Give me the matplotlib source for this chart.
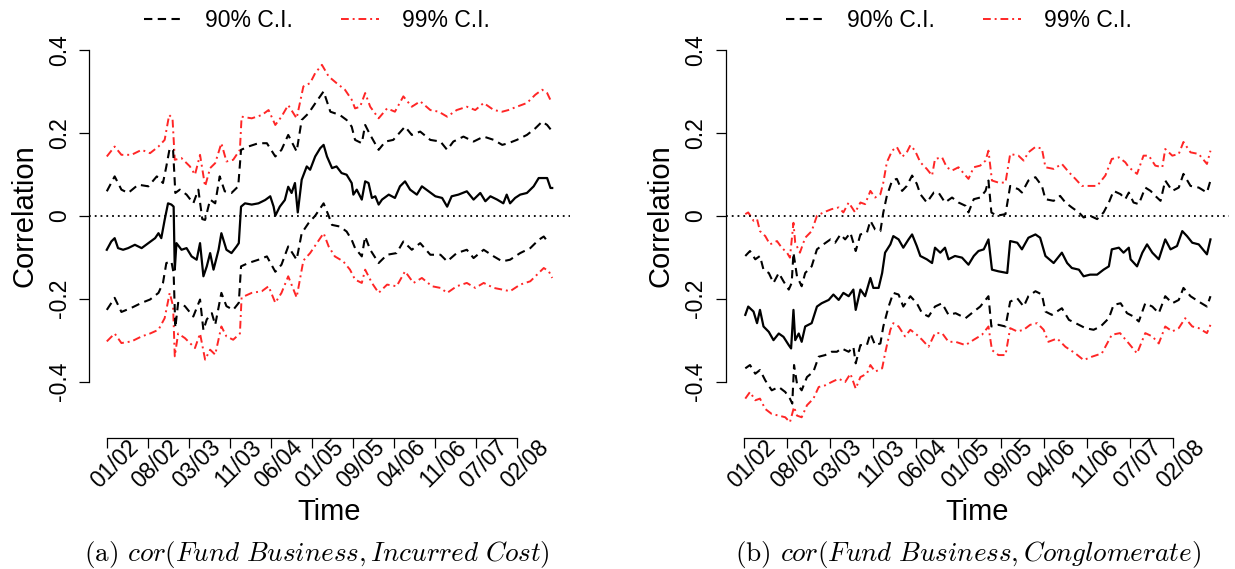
import numpy as np
import matplotlib
matplotlib.use("Agg")
import matplotlib.pyplot as plt
from matplotlib.lines import Line2D
from matplotlib.transforms import offset_copy


plt.rcParams["font.family"] = ["Liberation Sans", "DejaVu Sans"]
plt.rcParams["mathtext.fontset"] = "cm"

# time axis (months since 01/2002, ticks evenly spaced as in the original)
TICK_POS = [0, 7.3, 14.6, 21.9, 29.2, 36.5, 43.8, 51.1, 58.4, 65.7, 73.0]
TICK_LABELS = ["01/02", "08/02", "03/03", "11/03", "06/04", "01/05",
               "09/05", "04/06", "11/06", "07/07", "02/08"]
Y_TICKS = [-0.4, -0.2, 0.0, 0.2, 0.4]
Y_TICK_LABELS = ["-0.4", "-0.2", "0", "0.2", "0.4"]
LEGEND_LABELS = ["90% C.I.", "99% C.I."]
CAPTIONS = [r"(a) $cor(Fund\ Business, Incurred\ Cost)$",
            r"(b) $cor(Fund\ Business, Conglomerate)$"]

# ---- panel (a): (month, correlation) ----
left_center = [
    (0.0, -0.082), (0.8, -0.062), (1.4, -0.054), (2.0, -0.078), (2.9, -0.082),
    (3.8, -0.078), (5.0, -0.070), (6.2, -0.078), (7.4, -0.066), (8.6, -0.054),
    (9.2, -0.042), (9.7, -0.054), (10.3, -0.010), (10.9, 0.030), (11.5, 0.027),
    (11.9, 0.022), (12.1, -0.130), (12.4, -0.066), (13.3, -0.082), (14.2, -0.078),
    (15.1, -0.098), (16.0, -0.106), (16.6, -0.066), (17.2, -0.146), (17.8, -0.122),
    (18.4, -0.090), (19.0, -0.130), (19.9, -0.082), (20.4, -0.042), (21.3, -0.082),
    (22.2, -0.090), (23.1, -0.074), (23.5, -0.066), (23.9, 0.022), (24.6, 0.030),
    (25.8, 0.027), (27.0, 0.030), (28.2, 0.038), (29.1, 0.047), (29.7, 0.022),
    (30.0, 0.000), (30.8, 0.022), (31.7, 0.038), (32.3, 0.070), (32.9, 0.055),
    (33.5, 0.079), (34.0, 0.008), (34.7, 0.087), (35.6, 0.119), (36.2, 0.111),
    (37.1, 0.143), (38.0, 0.163), (38.6, 0.171), (39.2, 0.143), (40.1, 0.115),
    (40.9, 0.119), (41.8, 0.103), (42.7, 0.099), (43.6, 0.079), (43.9, 0.051),
    (44.5, 0.063), (45.4, 0.039), (46.0, 0.083), (46.6, 0.079), (47.2, 0.043),
    (47.8, 0.047), (48.4, 0.027), (49.0, 0.039), (50.2, 0.051), (51.3, 0.043),
    (52.2, 0.071), (53.1, 0.083), (54.0, 0.063), (55.2, 0.051), (56.1, 0.071),
    (57.3, 0.059), (58.5, 0.047), (59.7, 0.043), (60.6, 0.022), (61.4, 0.047),
    (62.6, 0.051), (64.1, 0.059), (65.3, 0.039), (66.5, 0.055), (67.4, 0.035),
    (68.3, 0.047), (69.5, 0.039), (70.6, 0.030), (71.2, 0.051), (71.8, 0.030),
    (72.7, 0.043), (73.6, 0.051), (74.8, 0.055), (76.0, 0.071), (76.9, 0.091),
    (77.8, 0.091), (78.4, 0.091), (79.0, 0.067), (79.3, 0.067),
]
left_up90 = [
    (0.0, 0.059), (1.4, 0.095), (2.6, 0.063), (3.8, 0.055), (5.6, 0.075),
    (7.4, 0.071), (8.9, 0.095), (10.0, 0.079), (10.6, 0.119), (11.2, 0.163),
    (11.8, 0.159), (12.2, 0.055), (13.0, 0.063), (14.2, 0.051), (15.4, 0.030),
    (16.3, 0.063), (17.0, -0.008), (17.5, -0.010), (18.4, 0.039), (19.3, 0.030),
    (20.1, 0.095), (21.0, 0.059), (22.2, 0.055), (23.4, 0.071), (23.9, 0.159),
    (25.2, 0.167), (27.0, 0.175), (28.5, 0.175), (30.0, 0.143), (31.1, 0.159),
    (32.3, 0.195), (33.8, 0.155), (34.7, 0.231), (35.9, 0.247), (37.1, 0.271),
    (38.6, 0.300), (39.8, 0.251), (41.5, 0.243), (42.7, 0.231), (43.6, 0.215),
    (44.2, 0.183), (45.4, 0.175), (46.0, 0.219), (46.9, 0.195), (48.4, 0.159),
    (49.6, 0.179), (51.0, 0.183), (53.1, 0.215), (54.3, 0.195), (55.8, 0.203),
    (57.6, 0.183), (59.4, 0.179), (60.6, 0.159), (61.7, 0.179), (63.5, 0.191),
    (65.3, 0.179), (67.1, 0.191), (68.9, 0.183), (70.4, 0.171), (71.5, 0.175),
    (73.0, 0.183), (74.8, 0.195), (76.3, 0.211), (77.5, 0.227), (78.4, 0.219),
    (79.1, 0.207),
]
left_lo90 = [
    (0.0, -0.227), (1.4, -0.198), (2.6, -0.232), (4.4, -0.222), (6.2, -0.210),
    (7.7, -0.202), (9.2, -0.186), (10.0, -0.162), (10.6, -0.114), (11.5, -0.110),
    (11.9, -0.139), (12.2, -0.270), (12.7, -0.210), (13.9, -0.218), (15.4, -0.243),
    (16.6, -0.202), (17.2, -0.276), (17.8, -0.250), (18.7, -0.235), (19.3, -0.263),
    (20.4, -0.186), (21.3, -0.218), (22.5, -0.227), (23.5, -0.210), (23.9, -0.122),
    (25.2, -0.114), (27.0, -0.106), (28.5, -0.098), (30.0, -0.135), (31.1, -0.118),
    (32.3, -0.074), (33.8, -0.106), (34.7, -0.042), (35.9, -0.018), (37.1, 0.000),
    (38.6, 0.030), (39.5, 0.000), (40.1, -0.022), (41.5, -0.026), (42.7, -0.038),
    (43.6, -0.058), (44.2, -0.078), (45.4, -0.098), (46.0, -0.050), (46.9, -0.082),
    (48.4, -0.114), (49.9, -0.094), (51.6, -0.090), (52.8, -0.062), (54.3, -0.082),
    (55.8, -0.066), (57.6, -0.094), (59.4, -0.094), (60.6, -0.110), (62.3, -0.090),
    (64.1, -0.082), (65.3, -0.102), (67.1, -0.082), (68.9, -0.098), (70.4, -0.110),
    (71.8, -0.106), (73.6, -0.090), (75.4, -0.078), (76.9, -0.058), (77.8, -0.050),
    (78.7, -0.066),
]
left_up99 = [
    (0.0, 0.143), (1.4, 0.167), (2.6, 0.147), (4.4, 0.147), (6.2, 0.159),
    (7.7, 0.151), (9.2, 0.167), (10.3, 0.183), (11.1, 0.243), (11.7, 0.235),
    (12.1, 0.135), (13.3, 0.139), (14.8, 0.119), (15.7, 0.099), (16.6, 0.147),
    (17.5, 0.071), (18.4, 0.115), (19.3, 0.127), (20.4, 0.175), (21.3, 0.131),
    (22.5, 0.135), (23.7, 0.159), (24.0, 0.239), (25.8, 0.235), (27.6, 0.243),
    (28.8, 0.255), (30.0, 0.219), (31.1, 0.239), (32.3, 0.267), (33.8, 0.235),
    (35.0, 0.312), (36.2, 0.320), (37.1, 0.344), (38.3, 0.364), (39.5, 0.336),
    (40.9, 0.320), (42.4, 0.304), (43.6, 0.280), (44.2, 0.259), (45.1, 0.263),
    (46.0, 0.296), (46.9, 0.263), (48.4, 0.235), (49.9, 0.259), (51.3, 0.251),
    (52.8, 0.288), (54.3, 0.263), (55.8, 0.276), (57.6, 0.255), (59.1, 0.251),
    (60.6, 0.239), (62.3, 0.255), (64.1, 0.263), (65.6, 0.255), (67.1, 0.272),
    (68.9, 0.255), (70.4, 0.251), (71.5, 0.255), (73.0, 0.263), (74.8, 0.272),
    (76.3, 0.292), (77.5, 0.304), (78.4, 0.296), (79.1, 0.276),
]
left_lo99 = [
    (0.0, -0.303), (1.4, -0.284), (2.6, -0.307), (4.4, -0.303), (6.2, -0.291),
    (7.7, -0.284), (9.2, -0.275), (10.3, -0.247), (11.2, -0.186), (11.8, -0.218),
    (12.1, -0.339), (12.7, -0.284), (13.9, -0.295), (15.7, -0.319), (16.6, -0.284),
    (17.5, -0.347), (18.4, -0.323), (19.3, -0.335), (20.4, -0.267), (21.3, -0.291),
    (22.5, -0.299), (23.7, -0.284), (24.0, -0.197), (25.8, -0.186), (27.6, -0.182),
    (28.8, -0.170), (30.0, -0.210), (31.1, -0.186), (32.3, -0.146), (33.8, -0.197),
    (35.0, -0.108), (36.2, -0.090), (37.4, -0.066), (38.6, -0.042), (39.5, -0.074),
    (40.6, -0.098), (42.1, -0.110), (43.3, -0.130), (44.2, -0.154), (45.4, -0.162),
    (46.0, -0.130), (47.2, -0.162), (48.4, -0.186), (49.9, -0.166), (51.6, -0.170),
    (53.1, -0.134), (54.6, -0.162), (56.1, -0.150), (57.9, -0.170), (59.4, -0.174),
    (60.6, -0.186), (62.3, -0.170), (64.1, -0.162), (65.6, -0.174), (67.1, -0.162),
    (68.9, -0.174), (70.4, -0.178), (71.8, -0.182), (73.6, -0.166), (75.4, -0.158),
    (76.6, -0.142), (77.8, -0.126), (78.7, -0.134), (79.3, -0.150),
]

# ---- panel (b) ----
right_center = [
    (0.2, -0.239), (0.7, -0.219), (1.6, -0.231), (2.2, -0.259), (2.7, -0.227),
    (3.3, -0.267), (4.2, -0.280), (5.0, -0.300), (5.9, -0.284), (6.7, -0.292),
    (7.6, -0.312), (8.0, -0.320), (8.4, -0.227), (8.7, -0.300), (9.3, -0.284),
    (9.8, -0.304), (10.4, -0.267), (11.5, -0.259), (12.4, -0.219), (13.2, -0.211),
    (14.4, -0.203), (15.2, -0.190), (16.1, -0.203), (16.9, -0.186), (17.8, -0.194),
    (18.6, -0.178), (19.0, -0.227), (19.8, -0.178), (20.6, -0.194), (21.5, -0.150),
    (22.0, -0.174), (22.9, -0.174), (23.5, -0.138), (24.0, -0.089), (24.9, -0.069),
    (25.4, -0.049), (26.3, -0.057), (27.1, -0.077), (28.0, -0.057), (28.6, -0.045),
    (29.4, -0.073), (30.0, -0.097), (31.1, -0.105), (32.0, -0.114), (32.5, -0.077),
    (33.4, -0.089), (34.2, -0.077), (34.8, -0.105), (35.9, -0.097), (37.1, -0.101),
    (38.2, -0.118), (39.1, -0.097), (39.9, -0.085), (40.8, -0.081), (41.6, -0.057),
    (42.2, -0.130), (43.3, -0.134), (44.8, -0.138), (45.3, -0.061), (46.5, -0.065),
    (47.3, -0.081), (48.4, -0.053), (49.6, -0.045), (50.4, -0.053), (51.3, -0.097),
    (52.7, -0.114), (54.1, -0.089), (55.0, -0.114), (55.8, -0.126), (57.0, -0.130),
    (57.8, -0.146), (58.9, -0.142), (60.1, -0.142), (61.2, -0.130), (62.1, -0.122),
    (62.6, -0.081), (63.8, -0.077), (64.6, -0.089), (65.5, -0.077), (65.8, -0.105),
    (66.9, -0.122), (67.8, -0.089), (68.6, -0.069), (69.5, -0.089), (70.6, -0.105),
    (71.7, -0.057), (72.6, -0.081), (73.7, -0.073), (74.6, -0.037), (75.4, -0.049),
    (76.3, -0.065), (77.4, -0.069), (78.8, -0.093), (79.4, -0.057),
]
right_up90 = [
    (0.2, -0.097), (1.0, -0.085), (1.9, -0.105), (2.7, -0.097), (3.3, -0.130),
    (4.2, -0.138), (5.0, -0.162), (5.9, -0.138), (6.7, -0.158), (7.6, -0.178),
    (8.1, -0.162), (8.4, -0.089), (9.0, -0.146), (9.8, -0.170), (10.4, -0.138),
    (11.5, -0.122), (12.4, -0.081), (13.5, -0.069), (14.7, -0.057), (15.5, -0.065),
    (16.4, -0.045), (17.2, -0.057), (18.1, -0.041), (19.0, -0.085), (19.8, -0.045),
    (20.9, -0.041), (21.5, -0.012), (22.3, -0.033), (23.2, -0.037), (23.7, 0.008),
    (24.3, 0.048), (25.2, 0.085), (26.0, 0.089), (26.9, 0.060), (27.7, 0.072),
    (28.6, 0.097), (29.4, 0.077), (30.0, 0.052), (31.1, 0.032), (32.3, 0.056),
    (33.1, 0.056), (34.2, 0.032), (35.4, 0.044), (36.5, 0.032), (37.7, 0.024),
    (38.2, 0.008), (39.1, 0.040), (40.2, 0.044), (41.1, 0.060), (41.6, 0.085),
    (42.1, 0.008), (43.0, 0.000), (44.5, 0.004), (45.3, 0.072), (46.7, 0.064),
    (47.3, 0.056), (48.4, 0.085), (49.6, 0.093), (50.7, 0.072), (51.3, 0.040),
    (52.7, 0.036), (53.8, 0.048), (54.7, 0.032), (55.8, 0.020), (57.0, 0.008),
    (57.8, -0.004), (58.9, 0.000), (60.1, -0.008), (61.2, 0.008), (62.1, 0.032),
    (62.9, 0.060), (64.1, 0.052), (64.9, 0.040), (65.5, 0.056), (66.3, 0.032),
    (67.2, 0.028), (68.3, 0.068), (69.2, 0.060), (70.0, 0.048), (70.9, 0.036),
    (71.7, 0.085), (72.9, 0.060), (74.0, 0.068), (74.8, 0.101), (76.0, 0.072),
    (77.4, 0.068), (78.8, 0.056), (79.4, 0.085),
]
right_lo90 = [
    (0.2, -0.368), (1.0, -0.360), (1.9, -0.381), (2.7, -0.372), (3.6, -0.397),
    (4.7, -0.421), (5.9, -0.413), (7.0, -0.425), (7.8, -0.441), (8.2, -0.453),
    (8.5, -0.360), (9.0, -0.405), (9.8, -0.421), (10.7, -0.389), (11.8, -0.376),
    (12.7, -0.340), (13.8, -0.336), (14.9, -0.328), (15.8, -0.328), (16.6, -0.320),
    (17.8, -0.328), (18.6, -0.316), (19.0, -0.356), (19.8, -0.312), (20.9, -0.312),
    (21.5, -0.284), (22.3, -0.312), (23.2, -0.308), (23.7, -0.267), (24.6, -0.219),
    (25.4, -0.186), (26.3, -0.190), (27.1, -0.219), (28.3, -0.194), (29.4, -0.211),
    (30.3, -0.235), (31.4, -0.243), (32.5, -0.219), (33.7, -0.211), (34.8, -0.239),
    (36.0, -0.235), (37.7, -0.247), (39.1, -0.231), (40.2, -0.219), (41.6, -0.194),
    (42.1, -0.267), (43.3, -0.263), (44.5, -0.267), (45.3, -0.207), (46.5, -0.199),
    (47.6, -0.219), (48.4, -0.194), (49.6, -0.182), (50.7, -0.190), (51.3, -0.231),
    (52.4, -0.239), (54.1, -0.223), (55.3, -0.251), (57.0, -0.263), (58.1, -0.271),
    (59.5, -0.275), (60.7, -0.267), (62.1, -0.247), (62.9, -0.215), (64.1, -0.211),
    (65.2, -0.235), (66.3, -0.243), (67.2, -0.255), (68.3, -0.211), (69.5, -0.219),
    (70.6, -0.235), (71.7, -0.194), (72.9, -0.211), (74.0, -0.203), (74.8, -0.174),
    (76.0, -0.194), (77.4, -0.207), (78.8, -0.219), (79.4, -0.194),
]
right_up99 = [
    (0.2, 0.004), (0.7, 0.008), (1.6, -0.012), (2.2, -0.008), (2.7, -0.037),
    (3.6, -0.049), (4.4, -0.069), (5.6, -0.061), (6.4, -0.077), (7.3, -0.089),
    (7.8, -0.101), (8.4, -0.017), (8.7, -0.065), (9.5, -0.089), (10.4, -0.053),
    (11.5, -0.037), (12.4, 0.000), (13.5, 0.008), (14.9, 0.016), (16.1, 0.020),
    (16.9, 0.008), (17.8, 0.032), (18.9, 0.008), (19.8, 0.032), (20.6, 0.028),
    (21.5, 0.060), (22.3, 0.044), (23.2, 0.052), (23.7, 0.080), (24.3, 0.129),
    (25.2, 0.157), (26.0, 0.166), (26.9, 0.142), (27.7, 0.153), (28.3, 0.170),
    (29.1, 0.157), (30.0, 0.129), (31.1, 0.113), (32.0, 0.097), (32.5, 0.137),
    (33.7, 0.141), (34.5, 0.117), (35.4, 0.109), (36.5, 0.117), (37.7, 0.097),
    (38.2, 0.089), (39.1, 0.117), (40.2, 0.121), (41.1, 0.133), (41.6, 0.157),
    (42.2, 0.085), (43.3, 0.080), (44.5, 0.080), (45.3, 0.149), (46.7, 0.145),
    (47.6, 0.133), (48.4, 0.153), (49.6, 0.166), (50.7, 0.162), (51.3, 0.117),
    (52.7, 0.113), (54.1, 0.125), (55.3, 0.105), (56.4, 0.089), (57.5, 0.072),
    (58.9, 0.072), (60.1, 0.072), (61.5, 0.097), (62.6, 0.137), (63.8, 0.141),
    (64.9, 0.129), (65.5, 0.117), (66.9, 0.101), (68.0, 0.145), (68.9, 0.145),
    (70.0, 0.121), (71.2, 0.117), (71.7, 0.161), (72.9, 0.145), (74.0, 0.149),
    (74.8, 0.178), (76.0, 0.153), (77.4, 0.149), (78.8, 0.125), (79.4, 0.157),
]
right_lo99 = [
    (0.2, -0.441), (1.0, -0.425), (1.9, -0.445), (2.7, -0.441), (3.6, -0.466),
    (4.7, -0.478), (5.9, -0.482), (7.0, -0.486), (7.8, -0.498), (8.5, -0.461),
    (9.0, -0.482), (9.8, -0.486), (10.7, -0.457), (11.8, -0.441), (12.7, -0.413),
    (13.8, -0.409), (14.9, -0.401), (16.1, -0.393), (17.2, -0.401), (18.1, -0.381),
    (19.0, -0.417), (19.8, -0.389), (20.9, -0.381), (21.5, -0.360), (22.3, -0.376),
    (23.5, -0.368), (24.0, -0.332), (24.9, -0.275), (25.4, -0.259), (26.3, -0.267),
    (27.4, -0.291), (28.3, -0.275), (29.4, -0.287), (30.3, -0.299), (31.4, -0.316),
    (32.5, -0.283), (33.7, -0.283), (34.8, -0.304), (36.0, -0.304), (37.7, -0.312),
    (39.1, -0.299), (40.5, -0.287), (41.6, -0.267), (42.2, -0.324), (43.3, -0.336),
    (44.5, -0.336), (45.3, -0.271), (46.5, -0.279), (47.6, -0.275), (48.7, -0.263),
    (49.9, -0.259), (51.0, -0.275), (51.8, -0.304), (53.3, -0.296), (54.7, -0.316),
    (56.4, -0.332), (57.8, -0.348), (59.2, -0.340), (60.9, -0.332), (62.6, -0.287),
    (64.0, -0.283), (65.5, -0.308), (66.9, -0.332), (68.3, -0.283), (69.5, -0.291),
    (70.6, -0.308), (71.7, -0.267), (72.9, -0.279), (74.0, -0.271), (75.1, -0.247),
    (76.3, -0.267), (77.4, -0.271), (78.8, -0.283), (79.4, -0.263),
]

XLIM = (-3.17, 82.47)
YLIM = (-0.536, 0.436)

STYLE_MID = dict(color="black", lw=1.6, ls="-")
STYLE_90 = dict(color="black", lw=1.5, dashes=(4, 2.6))
STYLE_99 = dict(color="#ff2626", lw=1.4, dashes=(4, 2, 1, 2))


def draw_panel(fig, rect, series, legend_x, ylabel_x, caption, caption_x):
    ax = fig.add_axes(rect)
    center, up90, lo90, up99, lo99 = series

    for data in (up99, lo99):
        t, v = np.array(data).T
        ax.plot(t, v, **STYLE_99)
    for data in (up90, lo90):
        t, v = np.array(data).T
        ax.plot(t, v, **STYLE_90)
    t, v = np.array(center).T
    ax.plot(t, v, **STYLE_MID)

    ax.axhline(0, color="black", lw=1.3, dashes=(1, 2.2))

    ax.set_xlim(XLIM)
    ax.set_ylim(YLIM)
    for side in ("top", "right"):
        ax.spines[side].set_visible(False)
    ax.spines["left"].set_bounds(Y_TICKS[0], Y_TICKS[-1])
    ax.spines["bottom"].set_bounds(TICK_POS[0], TICK_POS[-1])
    for side in ("left", "bottom"):
        ax.spines[side].set_linewidth(0.9)

    ax.set_yticks(Y_TICKS)
    ax.set_yticklabels(Y_TICK_LABELS, rotation=90, va="center", fontsize=16.5)
    ax.set_xticks(TICK_POS)
    ax.set_xticklabels([])
    ax.tick_params(direction="out", length=7, width=0.9, pad=6)

    label_tf = offset_copy(ax.transData, fig=fig, x=36, y=2, units="dots")
    for pos, lab in zip(TICK_POS, TICK_LABELS):
        ax.text(pos, YLIM[0], lab, rotation=45, ha="right", va="top",
                fontsize=16.5, transform=label_tf, clip_on=False)

    ax.set_ylabel("Correlation", fontsize=21, va="center")
    ax.yaxis.set_label_coords(ylabel_x, 0.553)
    ax.set_xlabel("Time", fontsize=21, va="center")
    ax.xaxis.set_label_coords(0.5, -0.1836)

    handles = [Line2D([], [], **STYLE_90), Line2D([], [], **STYLE_99)]
    ax.legend(handles, LEGEND_LABELS, loc="center", ncol=2, frameon=False,
              bbox_to_anchor=(legend_x, 1.035), fontsize=16.5,
              handlelength=1.65, handletextpad=1.0, columnspacing=2.1)

    fig.text(caption_x, 1 - 554 / 569, caption, ha="center", va="center",
             fontsize=19.5, family="cmr10")
    return ax


def main():
    fig = plt.figure(figsize=(12.35, 5.69), dpi=100)

    draw_panel(fig, [89 / 1235, 131 / 569, 481 / 1235, 403 / 569],
               (left_center, left_up90, left_lo90, left_up99, left_lo99),
               legend_x=0.474, ylabel_x=-65 / 481,
               caption=CAPTIONS[0], caption_x=317 / 1235)
    draw_panel(fig, [725.5 / 1235, 131 / 569, 503 / 1235, 403 / 569],
               (right_center, right_up90, right_lo90, right_up99, right_lo99),
               legend_x=0.464, ylabel_x=-65 / 503,
               caption=CAPTIONS[1], caption_x=968 / 1235)

    fig.savefig("out.png", dpi=100)
    plt.close(fig)


if __name__ == "__main__":
    main()
